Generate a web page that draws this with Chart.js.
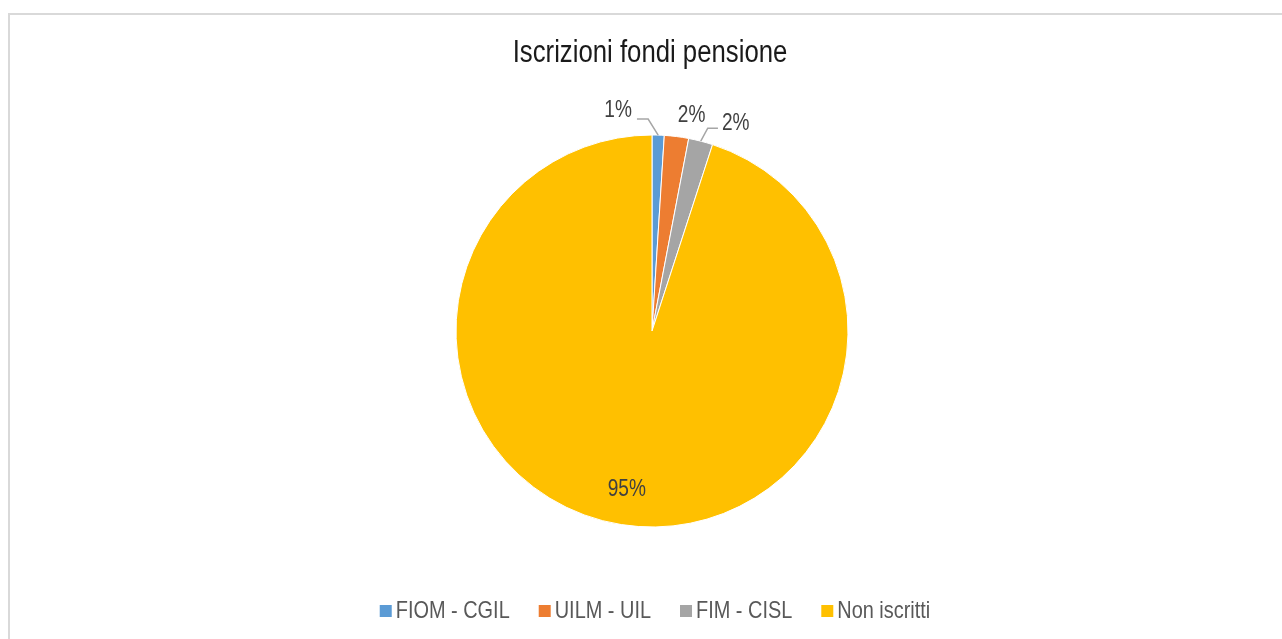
<!DOCTYPE html>
<html lang="it">
<head>
<meta charset="utf-8">
<title>Iscrizioni fondi pensione</title>
<script src="https://cdn.jsdelivr.net/npm/chart.js@4.4.1/dist/chart.umd.min.js"></script>
<style>
    html, body {
        margin: 0;
        padding: 0;
        background: #ffffff;
        overflow: hidden;
    }
    #frame {
        position: absolute;
        left: 8px;
        top: 13px;
        width: 1300px;
        height: 700px;
        border: 2px solid #d9d9d9;
        box-sizing: border-box;
    }
    #pieChart {
        position: absolute;
        left: 0;
        top: 0;
    }
</style>
</head>
<body>
<div id="frame"></div>
<canvas id="pieChart" width="1282" height="639"></canvas>
<script>
// Chart data.
const chartTitle = "Iscrizioni fondi pensione";
const categories = ["FIOM - CGIL", "UILM - UIL", "FIM - CISL", "Non iscritti"];
const shares = [1, 2, 2, 95];
const sliceColors = ["#5b9bd5", "#ed7d31", "#a5a5a5", "#ffc000"];

// The original uses a narrow Arial; no narrow face is installed, so text is squeezed horizontally.
const fontFamily = "'Liberation Sans', Arial, sans-serif";
const narrow = 0.83;

// Where each percentage label sits relative to its slice (Excel-like placement).
const labelPlacement = [
    { r: 1, dx: -40, dy: -24, leader: "left" },
    { r: 1, dx: 15, dy: -21, leader: null },
    { r: 1, dx: 35, dy: -18, leader: "right" },
    { r: 0.82, dx: 0, dy: 0, leader: null }
];

function drawNarrowText(ctx, text, x, y, align) {
    ctx.save();
    ctx.translate(x, y);
    ctx.scale(narrow, 1);
    ctx.textAlign = align;
    ctx.fillText(text, 0, 0);
    ctx.restore();
}

function narrowWidth(ctx, text) {
    return ctx.measureText(text).width * narrow;
}

const excelText = {
    id: "excelText",
    afterDatasetsDraw(chart) {
        const ctx = chart.ctx;
        const meta = chart.getDatasetMeta(0);
        const total = shares.reduce((a, b) => a + b, 0);

        ctx.save();
        ctx.textBaseline = "middle";

        // Title.
        ctx.font = "31px " + fontFamily;
        ctx.fillStyle = "#1a1a1a";
        drawNarrowText(ctx, chartTitle, 650, 53, "center");

        // Percentage labels.
        ctx.font = "23px " + fontFamily;
        ctx.fillStyle = "#404040";
        meta.data.forEach((arc, i) => {
            const p = arc.getProps(["x", "y", "startAngle", "endAngle", "outerRadius"], true);
            const mid = (p.startAngle + p.endAngle) / 2;
            const place = labelPlacement[i];
            const ax = p.x + Math.cos(mid) * p.outerRadius * place.r;
            const ay = p.y + Math.sin(mid) * p.outerRadius * place.r;
            const lx = ax + place.dx;
            const ly = ay + place.dy;
            const text = Math.round((shares[i] / total) * 100) + "%";

            if (place.leader) {
                const half = narrowWidth(ctx, text) / 2;
                ctx.beginPath();
                ctx.strokeStyle = "#a6a6a6";
                ctx.lineWidth = 1.5;
                if (place.leader === "left") {
                    ctx.moveTo(lx + half + 5, ly + 8);
                    ctx.lineTo(ax - 10, ly + 8);
                } else {
                    ctx.moveTo(lx - half - 4, ly + 5);
                    ctx.lineTo(ax + 7, ly + 5);
                }
                ctx.lineTo(ax, ay);
                ctx.stroke();
            }

            drawNarrowText(ctx, text, lx, ly, "center");
        });

        // Legend along the bottom.
        const boxSize = 12;
        const boxGap = 4;
        const itemGap = 29;
        const legendY = 611;
        ctx.font = "24px " + fontFamily;
        const widths = categories.map((c) => boxSize + boxGap + narrowWidth(ctx, c));
        const totalWidth = widths.reduce((a, b) => a + b, 0) + itemGap * (categories.length - 1);
        let x = 655 - totalWidth / 2;
        categories.forEach((c, i) => {
            ctx.fillStyle = sliceColors[i];
            ctx.fillRect(x, legendY - boxSize / 2, boxSize, boxSize);
            ctx.fillStyle = "#595959";
            drawNarrowText(ctx, c, x + boxSize + boxGap, legendY, "left");
            x += widths[i] + itemGap;
        });

        ctx.restore();
    }
};

const canvas = document.getElementById("pieChart");
new Chart(canvas.getContext("2d"), {
    type: "pie",
    data: {
        labels: categories,
        datasets: [
            {
                data: shares,
                backgroundColor: sliceColors,
                borderColor: "#ffffff",
                borderWidth: 1,
                hoverOffset: 0,
                radius: 196
            }
        ]
    },
    options: {
        responsive: false,
        animation: false,
        layout: {
            padding: { left: 22, right: 0, top: 23, bottom: 0 }
        },
        plugins: {
            title: { display: false },
            legend: { display: false },
            tooltip: { enabled: false }
        }
    },
    plugins: [excelText]
});
</script>
</body>
</html>
